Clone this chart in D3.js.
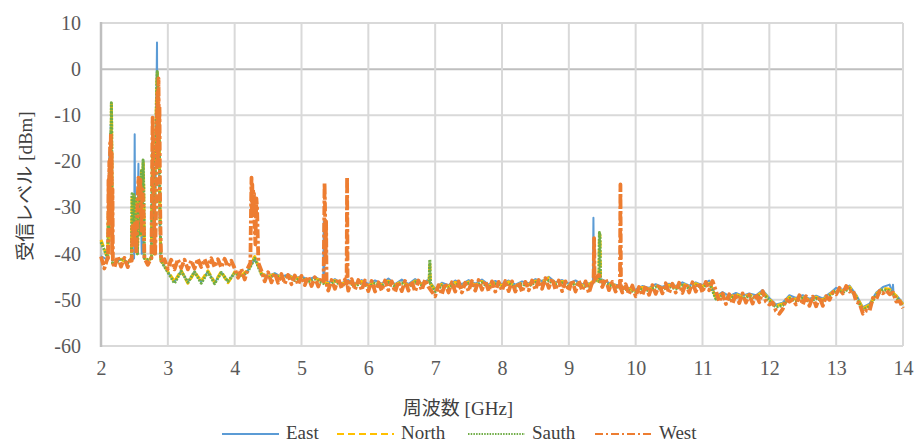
<!DOCTYPE html>
<html>
<head>
<meta charset="utf-8">
<script src="https://cdn.jsdelivr.net/npm/d3@7"></script>
<style>
  html, body { margin: 0; padding: 0; background: #fff; }
  svg { display: block; }
  text { font-family: "Liberation Serif", "Times New Roman", "DejaVu Serif", "Noto Sans CJK JP", serif; }
</style>
</head>
<body>
<svg id="chart" width="916" height="443"></svg>
<script>
// Received level vs. frequency for four antenna directions.
const xTicks = [2, 3, 4, 5, 6, 7, 8, 9, 10, 11, 12, 13, 14];
const yTicks = [-60, -50, -40, -30, -20, -10, 0, 10];
const seriesNames = ["East", "North", "Sauth", "West"];

// West: sweep level every 0.05 GHz from 2.00 to 14.00 GHz (dBm)
const westLevel = [
  -40.6,-43.2,-40.8,-42.6,-43.0,-40.6,-42.8,-40.9,-42.9,-40.8,-42.4,-41.0,-42.7,-40.6,-42.4,-41.0,-42.8,-41.1,-43.0,-41.2,
  -43.3,-41.3,-43.4,-41.2,-43.1,-41.3,-43.4,-41.5,-43.2,-41.1,-42.9,-41.2,-42.8,-41.0,-42.9,-41.2,-43.0,-41.1,-42.8,-41.5,
  -43.2,-45.2,-43.3,-45.6,-43.0,-42.0,-42.7,-45.3,-43.7,-46.0,-44.0,-46.2,-44.2,-46.3,-44.4,-46.5,-44.6,-46.6,-44.7,-46.7,
  -44.8,-46.8,-44.9,-47.0,-45.1,-47.1,-45.3,-46.0,-48.0,-45.7,-47.6,-45.4,-47.5,-45.6,-48.0,-45.5,-47.8,-45.7,-47.9,-45.8,
  -48.1,-45.9,-48.2,-46.2,-48.0,-45.8,-47.9,-46.0,-48.3,-46.1,-48.1,-45.9,-48.0,-46.0,-48.2,-45.8,-47.9,-45.6,-47.2,-48.2,
  -49.2,-46.8,-48.8,-46.4,-48.4,-46.2,-48.2,-46.0,-48.4,-46.3,-48.1,-45.9,-48.0,-45.7,-47.8,-45.9,-48.1,-46.0,-48.2,-46.1,
  -48.0,-45.9,-48.1,-46.0,-48.2,-46.2,-48.3,-46.1,-47.9,-45.8,-47.8,-45.7,-47.6,-45.3,-47.4,-45.4,-47.8,-45.8,-48.1,-46.0,
  -48.0,-45.7,-48.2,-45.9,-48.0,-46.0,-48.5,-46.2,-45.4,-44.6,-47.2,-45.4,-47.9,-46.1,-48.2,-46.4,-48.4,-46.6,-48.8,-46.9,
  -49.2,-47.2,-49.0,-46.9,-48.9,-46.8,-48.7,-46.7,-48.6,-46.4,-48.5,-46.5,-48.4,-46.3,-48.5,-46.4,-48.4,-46.2,-48.2,-46.3,
  -48.4,-46.1,-47.9,-45.9,-48.0,-50.4,-48.6,-50.9,-48.8,-50.8,-48.7,-50.7,-48.6,-50.6,-48.9,-50.8,-48.7,-50.5,-48.1,-50.4,
  -51.0,-50.6,-52.4,-53.0,-52.0,-50.0,-50.4,-49.9,-51.0,-49.0,-51.0,-49.2,-51.3,-49.3,-51.4,-49.4,-51.3,-49.2,-50.0,-48.4,
  -48.8,-47.4,-48.6,-47.0,-48.2,-47.8,-50.4,-50.8,-53.0,-52.3,-52.4,-49.6,-49.9,-48.1,-48.6,-48.0,-48.8,-48.4,-50.4,-50.3,
  -51.8
];

// East / North / Sauth: sweep level every 0.1 GHz from 2.0 to 14.0 GHz (dBm)
const eastLevel = [
  -40.5,-41.4,-42.1,-41.1,-41.9,-41.3,-42.1,-41.4,-42.0,-41.5,
  -44.0,-46.1,-43.7,-46.2,-43.9,-46.1,-43.8,-46.3,-44.0,-46.1,
  -44.1,-44.8,-43.6,-41.2,-44.2,-44.8,-44.2,-45.0,-44.5,-45.3,
  -44.9,-45.6,-45.0,-45.8,-46.3,-45.5,-46.4,-45.7,-46.5,-45.7,
  -46.6,-45.8,-46.5,-45.4,-46.6,-45.6,-46.6,-45.5,-46.4,-45.6,
  -47.6,-46.3,-46.8,-45.8,-46.6,-45.7,-46.5,-45.6,-46.7,-45.9,
  -46.6,-45.8,-46.7,-46.0,-46.4,-45.5,-45.9,-45.0,-46.2,-45.7,
  -46.5,-45.8,-46.6,-46.4,-45.4,-45.6,-46.3,-46.7,-47.1,-47.4,
  -47.8,-47.0,-47.4,-46.6,-47.2,-46.5,-47.0,-46.2,-46.9,-46.2,
  -46.8,-45.8,-49.2,-48.3,-49.2,-48.5,-49.1,-48.6,-49.0,-47.9,
  -49.6,-51.0,-50.6,-49.0,-49.6,-49.0,-49.8,-49.1,-49.7,-48.6,
  -47.4,-47.8,-46.9,-48.9,-51.6,-50.8,-48.4,-47.2,-46.7,-49.0,
  -50.7
];
const northLevel = [
  -37.0,-41.5,-42.0,-41.2,-42.1,-41.1,-42.0,-41.5,-42.2,-41.4,
  -43.8,-46.0,-43.6,-46.4,-44.0,-45.9,-43.7,-46.2,-43.9,-46.3,
  -44.0,-44.7,-43.5,-40.6,-44.3,-45.0,-44.4,-45.2,-44.7,-45.5,
  -45.1,-45.9,-45.3,-46.0,-46.5,-45.8,-46.6,-46.0,-46.7,-46.0,
  -46.9,-46.1,-46.7,-45.9,-46.8,-46.0,-46.9,-45.9,-46.6,-45.8,
  -47.8,-46.6,-47.1,-46.2,-46.9,-46.1,-46.8,-46.0,-47.0,-46.2,
  -46.9,-46.1,-47.0,-46.3,-46.7,-45.9,-46.1,-45.2,-46.5,-46.0,
  -46.8,-46.1,-46.9,-46.7,-45.5,-45.9,-46.5,-46.9,-47.3,-47.6,
  -48.0,-47.3,-47.7,-46.9,-47.5,-46.8,-47.3,-46.5,-47.2,-46.5,
  -47.1,-46.0,-49.5,-48.7,-49.5,-48.8,-49.4,-48.9,-49.3,-48.2,
  -49.9,-51.3,-50.9,-49.4,-49.9,-49.3,-50.1,-49.4,-50.0,-48.9,
  -47.7,-48.1,-47.2,-49.2,-51.9,-51.1,-48.7,-47.5,-47.7,-49.2,
  -51.0
];
const sauthLevel = [
  -37.5,-41.2,-42.3,-41.0,-42.0,-41.4,-42.2,-41.3,-41.9,-41.6,
  -44.0,-46.4,-43.8,-46.2,-43.9,-46.4,-44.0,-46.5,-44.1,-46.0,
  -44.2,-45.0,-43.8,-41.0,-44.5,-45.3,-44.6,-45.5,-44.9,-45.8,
  -45.3,-46.1,-45.5,-46.3,-46.8,-46.0,-46.9,-46.2,-47.0,-46.3,
  -47.2,-46.4,-47.0,-46.2,-47.1,-46.3,-47.2,-46.1,-46.9,-46.0,
  -48.2,-46.9,-47.4,-46.5,-47.2,-46.4,-47.1,-46.3,-47.3,-46.5,
  -47.2,-46.4,-47.3,-46.6,-47.0,-46.2,-46.4,-45.8,-46.8,-46.3,
  -47.1,-46.4,-47.2,-47.0,-45.8,-46.2,-46.8,-47.2,-47.6,-47.9,
  -48.3,-47.6,-48.0,-47.2,-47.8,-47.1,-47.6,-46.8,-47.5,-46.8,
  -47.4,-46.3,-49.8,-49.0,-49.8,-49.1,-49.7,-49.2,-49.6,-48.5,
  -50.2,-51.6,-51.2,-49.7,-50.2,-49.6,-50.4,-49.7,-50.3,-49.2,
  -48.0,-48.4,-47.5,-49.5,-52.2,-51.4,-49.0,-47.8,-48.0,-49.5,
  -51.3
];

// Narrow carriers: [GHz, dBm] points captured at finer resolution
const westBursts = [
  [[2.105,-41.5],[2.112,-24],[2.118,-33],[2.124,-20],[2.13,-28],[2.136,-16],[2.142,-22],[2.148,-13.8],[2.154,-25],[2.16,-18],[2.166,-40],[2.172,-26],[2.178,-42]],
  [[2.46,-41.5],[2.47,-34],[2.49,-38],[2.51,-33],[2.53,-40],[2.545,-30],[2.56,-23.5],[2.575,-28],[2.59,-24],[2.605,-35],[2.62,-26],[2.635,-30],[2.65,-41]],
  [[2.755,-41],[2.765,-22],[2.772,-10.5],[2.78,-16],[2.79,-28],[2.80,-36],[2.81,-40],[2.825,-30],[2.835,-12],[2.845,-5],[2.852,-20],[2.86,-2],[2.868,-15],[2.875,-8],[2.882,-26],[2.89,-35],[2.90,-41.5]],
  [[4.235,-42],[4.245,-30],[4.252,-23.5],[4.258,-31],[4.264,-25],[4.27,-32],[4.276,-26],[4.283,-30],[4.29,-27],[4.297,-33],[4.31,-38],[4.325,-28],[4.335,-30],[4.345,-36],[4.355,-42]],
  [[5.33,-46],[5.338,-36],[5.345,-24.7],[5.352,-30],[5.36,-42],[5.368,-33],[5.375,-46.5]],
  [[5.675,-46.5],[5.682,-23.4],[5.69,-47]],
  [[9.37,-46.5],[9.378,-36.6],[9.386,-46]],
  [[9.765,-47],[9.772,-25],[9.78,-47.5]]
];
const eastBursts = [
  [[2.102,-41],[2.108,-25],[2.115,-38],[2.125,-18],[2.135,-30],[2.145,-12],[2.155,-22],[2.165,-38],[2.172,-42]],
  [[2.495,-41],[2.504,-14.1],[2.512,-38],[2.525,-30],[2.54,-40],[2.56,-20.5],[2.57,-36],[2.59,-27],[2.61,-40],[2.625,-22],[2.64,-41]],
  [[2.75,-41],[2.77,-14],[2.785,-30],[2.80,-40],[2.82,-20],[2.838,5.8],[2.845,-20],[2.86,-8],[2.875,-30],[2.89,-41]],
  [[5.325,-46],[5.333,-33],[5.342,-45]],
  [[9.36,-46.5],[9.368,-32.2],[9.376,-46]],
  [[13.84,-48.5],[13.85,-46.7],[13.86,-48.8]]
];
const northBursts = [
  [[2.10,-41],[2.11,-31],[2.12,-37],[2.128,-21],[2.136,-27],[2.144,-15],[2.15,-19],[2.156,-7.5],[2.16,-13],[2.165,-31],[2.172,-42]],
  [[2.455,-41],[2.465,-27.5],[2.475,-35],[2.49,-27],[2.50,-38],[2.515,-28],[2.53,-34],[2.545,-40],[2.56,-30],[2.575,-24],[2.59,-36],[2.605,-22],[2.62,-30],[2.632,-20],[2.64,-26],[2.65,-41]],
  [[2.755,-41],[2.77,-18],[2.78,-30],[2.795,-40],[2.81,-22],[2.825,-10],[2.835,-3],[2.843,-0.8],[2.85,-6],[2.86,-18],[2.87,-10],[2.88,-28],[2.895,-41]],
  [[6.91,-46],[6.92,-42],[6.93,-46.5]],
  [[9.45,-46],[9.458,-35.6],[9.466,-36.2],[9.474,-46]]
];
const sauthBursts = [
  [[2.10,-41],[2.112,-30],[2.12,-36],[2.128,-20],[2.136,-26],[2.144,-14],[2.15,-18],[2.155,-7.3],[2.16,-12],[2.165,-30],[2.172,-42]],
  [[2.455,-41],[2.465,-27],[2.475,-35],[2.49,-26.8],[2.50,-38],[2.515,-28],[2.53,-34],[2.545,-40],[2.56,-30],[2.575,-24],[2.59,-36],[2.605,-22],[2.62,-30],[2.63,-19.7],[2.64,-26],[2.65,-41]],
  [[2.755,-41],[2.77,-18],[2.78,-30],[2.795,-40],[2.81,-22],[2.825,-10],[2.835,-3],[2.842,-0.5],[2.85,-6],[2.86,-18],[2.87,-10],[2.88,-28],[2.895,-41]],
  [[6.91,-46],[6.92,-41.3],[6.93,-46.5]],
  [[9.45,-46],[9.458,-35.4],[9.466,-36],[9.474,-46]]
];

// Sweep frequency grids (GHz)
const fineFreq = d3.range(241).map(i => +(2 + i * 0.05).toFixed(2));
const coarseFreq = d3.range(121).map(i => +(2 + i * 0.1).toFixed(1));

// Merge the regular sweep with the finer carrier captures
function buildSeries(freqs, levels, bursts) {
  const base = freqs.map((f, i) => [f, levels[i]])
    .filter(([f]) => !bursts.some(b => f >= b[0][0] && f <= b[b.length - 1][0]));
  return base.concat(...bursts).sort((a, b) => a[0] - b[0]);
}

const series = [
  { name: seriesNames[0], color: "#5B9BD5", width: 2, dash: null, legendDash: null, data: buildSeries(coarseFreq, eastLevel, eastBursts) },
  { name: seriesNames[1], color: "#FFC000", width: 3, dash: "7,3", legendDash: "7,4", data: buildSeries(coarseFreq, northLevel, northBursts) },
  { name: seriesNames[2], color: "#70AD47", width: 3, dash: "2,1.2", legendDash: "1.5,1.2", data: buildSeries(coarseFreq, sauthLevel, sauthBursts) },
  { name: seriesNames[3], color: "#ED7D31", width: 3.8, dash: "9,2.5,3,2.5", legendDash: "8,3,2,3", data: buildSeries(fineFreq, westLevel, westBursts) }
];

const svg = d3.select("#chart");
const x = d3.scaleLinear().domain([2, 14]).range([101, 903]);
const y = d3.scaleLinear().domain([-60, 10]).range([346, 23]);
const numFont = "'Liberation Serif', 'Times New Roman', 'DejaVu Serif', serif";

// Gridlines
const grid = svg.append("g");
grid.selectAll("line.h").data(yTicks).join("line")
  .attr("x1", x(2)).attr("x2", x(14))
  .attr("y1", d => y(d)).attr("y2", d => y(d))
  .attr("stroke", d => d === 0 ? "#bfbfbf" : "#d9d9d9").attr("stroke-width", 2);
grid.selectAll("line.v").data(xTicks.slice(1)).join("line")
  .attr("x1", d => x(d)).attr("x2", d => x(d))
  .attr("y1", y(10)).attr("y2", y(-60))
  .attr("stroke", "#d9d9d9").attr("stroke-width", 2);
grid.append("line")
  .attr("x1", x(2)).attr("x2", x(2)).attr("y1", y(10) - 1).attr("y2", y(-60) + 1)
  .attr("stroke", "#bfbfbf").attr("stroke-width", 2.5);

// Axes (labels only; lines are drawn above)
const yAxis = svg.append("g").attr("transform", `translate(${x(2) - 10},0)`)
  .call(d3.axisLeft(y).tickValues(yTicks).tickFormat(d => String(d)).tickSize(0).tickPadding(10));
yAxis.attr("font-family", null);
yAxis.select(".domain").remove();
yAxis.selectAll("text").attr("font-size", 20).attr("fill", "#595959")
  .style("font-family", numFont);

const xAxis = svg.append("g").attr("transform", `translate(0,${y(-60)})`)
  .call(d3.axisBottom(x).tickValues(xTicks).tickFormat(d => String(d)).tickSize(0).tickPadding(15));
xAxis.attr("font-family", null);
xAxis.select(".domain").remove();
xAxis.selectAll("text").attr("font-size", 20).attr("fill", "#595959")
  .style("font-family", numFont);

// Series
const line = d3.line().x(d => x(d[0])).y(d => y(d[1]));
svg.append("g").selectAll("path").data(series).join("path")
  .attr("d", d => line(d.data))
  .attr("fill", "none")
  .attr("stroke", d => d.color)
  .attr("stroke-width", d => d.width)
  .attr("stroke-dasharray", d => d.dash)
  .attr("stroke-linejoin", "round");

// Axis titles
svg.append("text").attr("x", 458).attr("y", 415).attr("text-anchor", "middle")
  .attr("font-size", 19).attr("fill", "#404040").text("周波数 [GHz]");
svg.append("text").attr("transform", "translate(32,186) rotate(-90)")
  .attr("text-anchor", "middle").attr("font-size", 19).attr("fill", "#404040")
  .text("受信レベル [dBm]");

// Legend
const legendX = [222, 337, 468, 595];
const legend = svg.append("g").selectAll("g").data(series).join("g")
  .attr("transform", (d, i) => `translate(${legendX[i]},434)`);
legend.append("line").attr("x1", 0).attr("x2", 57).attr("y1", 0).attr("y2", 0)
  .attr("stroke", d => d.color).attr("stroke-width", 2)
  .attr("stroke-dasharray", d => d.legendDash);
legend.append("text").attr("x", 64).attr("y", 5).attr("font-size", 19)
  .attr("fill", "#404040").text(d => d.name);
</script>
</body>
</html>
